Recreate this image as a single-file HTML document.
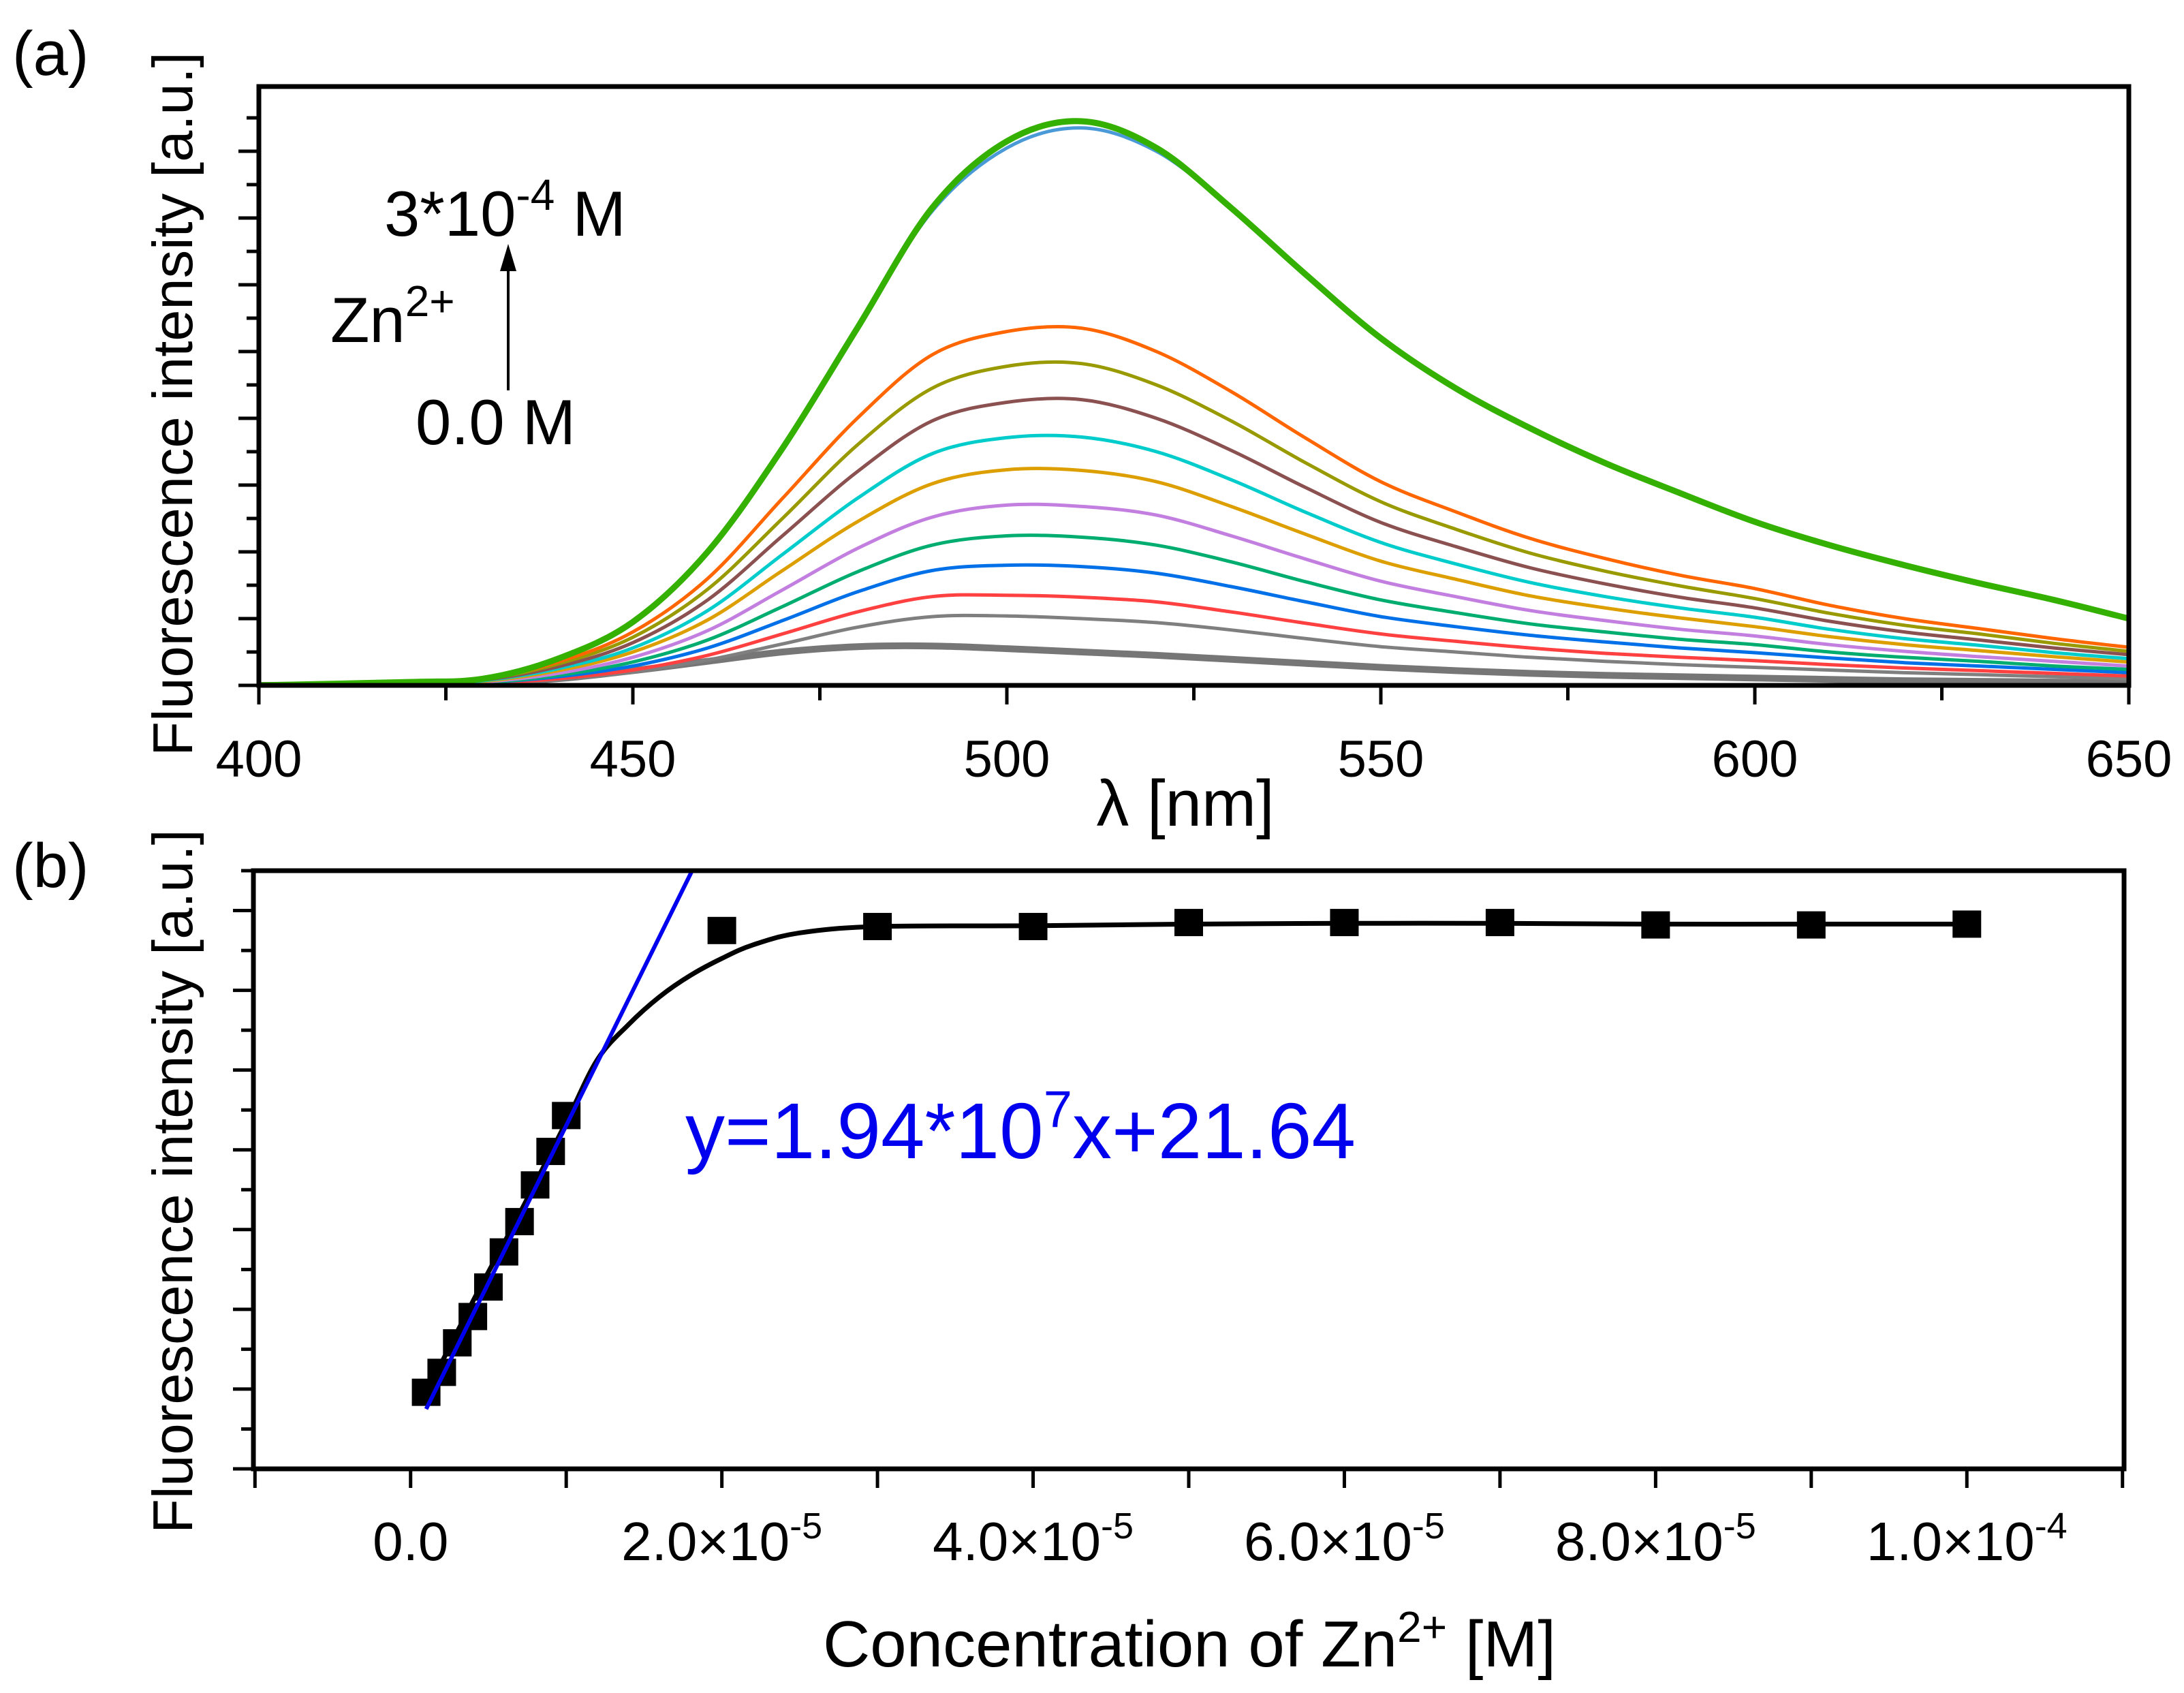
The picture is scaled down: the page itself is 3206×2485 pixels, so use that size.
<!DOCTYPE html>
<html><head><meta charset="utf-8">
<style>
html,body{margin:0;padding:0;background:#fff;}
svg{display:block;font-family:"Liberation Sans",Arial,sans-serif;}
</style></head>
<body>
<svg id="fig" width="3206" height="2485" viewBox="0 0 3206 2485" xmlns="http://www.w3.org/2000/svg">
<rect width="3206" height="2485" fill="#fff"/>
<g id="pa"></g>
<g id="pb"></g>
<text x="18" y="110" font-size="92">(a)</text>
<text x="18" y="1302" font-size="92">(b)</text>
<text transform="translate(282,593) rotate(-90)" text-anchor="middle" font-size="83">Fluorescence intensity [a.u.]</text>
<text transform="translate(282,1734) rotate(-90)" text-anchor="middle" font-size="83">Fluorescence intensity [a.u.]</text>
<text x="1740" y="1212" text-anchor="middle" font-size="96">λ [nm]</text>
<text x="1746" y="2446" text-anchor="middle" font-size="96">Concentration of Zn<tspan dy="-36" font-size="64">2+</tspan><tspan dy="36"> [M]</tspan></text>
<text x="564" y="346" font-size="94">3*10<tspan dy="-38" font-size="64">-4</tspan><tspan dy="38"> M</tspan></text>
<text x="485" y="502" font-size="94">Zn<tspan dy="-38" font-size="64">2+</tspan></text>
<text x="610" y="652" font-size="94">0.0 M</text>
<line x1="746" y1="573" x2="746" y2="395" stroke="#000" stroke-width="4"/>
<polygon points="746,358 734,398 758,398" fill="#000"/>
<text x="1006" y="1700" font-size="116" fill="#0000ee">y=1.94*10<tspan dy="-46" font-size="76">7</tspan><tspan dy="46">x+21.64</tspan></text>
</svg>
<script>
// ---------- Panel (a) data ----------
const wavelengths=[400,420,430,440,450,460,470,480,490,500,510,520,530,540,550,560,570,580,590,600,610,620,630,640,650];
const seriesNames=['s-0','s-1','s-2','s-3','s-4','s-5','s-6','s-7','s-8','s-9','s-10','s-11','s-12'];
const sDark=[0,0.01,0.03,0.1,0.22,0.36,0.5,0.58,0.59,0.55,0.5,0.45,0.39,0.33,0.27,0.22,0.18,0.15,0.13,0.11,0.09,0.07,0.06,0.05,0.04];
const sGray=[0,0.01,0.03,0.09,0.2,0.38,0.62,0.87,1.03,1.04,1.0,0.94,0.83,0.7,0.58,0.5,0.42,0.36,0.31,0.27,0.23,0.19,0.16,0.13,0.1];
const sRed=[0,0.01,0.03,0.1,0.23,0.45,0.77,1.1,1.33,1.35,1.32,1.25,1.1,0.93,0.77,0.66,0.56,0.48,0.42,0.37,0.31,0.26,0.22,0.18,0.14];
const sBlue=[0,0.01,0.04,0.13,0.29,0.56,0.97,1.4,1.72,1.8,1.78,1.68,1.48,1.25,1.03,0.88,0.75,0.65,0.56,0.49,0.41,0.34,0.29,0.24,0.19];
const sGreen2=[0,0.01,0.04,0.15,0.35,0.68,1.18,1.7,2.1,2.24,2.22,2.1,1.85,1.55,1.28,1.09,0.92,0.8,0.69,0.61,0.5,0.42,0.36,0.29,0.24];
const sPurple=[0,0.02,0.05,0.18,0.42,0.82,1.43,2.05,2.52,2.7,2.68,2.55,2.24,1.89,1.56,1.33,1.12,0.97,0.84,0.74,0.61,0.51,0.43,0.36,0.29];
const sGold=[0,0.02,0.06,0.22,0.5,0.98,1.72,2.45,3.02,3.23,3.22,3.05,2.68,2.26,1.86,1.59,1.34,1.16,1.01,0.88,0.73,0.61,0.52,0.43,0.35];
const sCyan=[0,0.02,0.07,0.25,0.56,1.12,1.96,2.8,3.47,3.71,3.72,3.5,3.08,2.59,2.14,1.82,1.54,1.33,1.16,1.02,0.84,0.7,0.6,0.49,0.4];
const sBrown=[0,0.02,0.08,0.28,0.64,1.28,2.24,3.2,3.96,4.24,4.28,4.0,3.52,2.96,2.44,2.08,1.76,1.52,1.32,1.16,0.96,0.8,0.68,0.56,0.46];
const sOlive=[0,0.03,0.09,0.32,0.72,1.44,2.5,3.6,4.45,4.78,4.82,4.5,3.96,3.33,2.75,2.34,1.98,1.71,1.49,1.3,1.08,0.9,0.77,0.63,0.51];
const sOrange=[0,0.03,0.1,0.35,0.8,1.6,2.8,4.0,4.95,5.3,5.35,5.0,4.4,3.7,3.05,2.6,2.2,1.9,1.65,1.45,1.2,1.0,0.85,0.7,0.57];
const sLightBlue=[0,0.05,0.1,0.4,0.95,2.0,3.55,5.35,7.1,8.05,8.35,8.0,7.15,6.15,5.2,4.45,3.85,3.33,2.88,2.45,2.1,1.79,1.52,1.27,0.99];
const sGreen=[0,0.05,0.1,0.4,0.95,2.0,3.55,5.35,7.15,8.15,8.45,8.05,7.15,6.15,5.2,4.45,3.85,3.33,2.88,2.45,2.1,1.8,1.53,1.28,1.0];
const xTicksA=[400,450,500,550,600,650];

// ---------- Panel (b) data ----------
const concX=[1e-6,2e-6,3e-6,4e-6,5e-6,6e-6,7e-6,8e-6,9e-6,1e-5,2e-5,3e-5,4e-5,5e-5,6e-5,7e-5,8e-5,9e-5,1e-4];
const intensityY=[0.96,1.21,1.58,1.91,2.28,2.72,3.1,3.56,3.98,4.43,6.75,6.8,6.8,6.85,6.85,6.85,6.82,6.82,6.83];
const curveX=[1e-6,4e-6,7e-6,1e-5,1.2e-5,1.4e-5,1.6e-5,1.8e-5,2e-5,2.2e-5,2.5e-5,3e-5,4e-5,5e-5,6e-5,7e-5,8e-5,9e-5,1e-4];
const curveY=[0.95,2.1,3.2,4.35,5.13,5.57,5.92,6.19,6.4,6.57,6.72,6.8,6.81,6.83,6.84,6.84,6.83,6.83,6.83];
const fitSlope=[3.95e5];
const fitIntercept=[0.355];
const xTicksB=[0,2e-5,4e-5,6e-5,8e-5,1e-4];
const xTickLabelsB=['0.0','2.0×10|-5','4.0×10|-5','6.0×10|-5','8.0×10|-5','1.0×10|-4'];

const NS='http://www.w3.org/2000/svg';
function mk(tag,attrs,parent){const e=document.createElementNS(NS,tag);for(const k in attrs)e.setAttribute(k,attrs[k]);parent.appendChild(e);return e;}
function smooth(pts){let d='M'+pts[0][0].toFixed(1)+','+pts[0][1].toFixed(1);
 for(let i=0;i<pts.length-1;i++){const p0=pts[Math.max(0,i-1)],p1=pts[i],p2=pts[i+1],p3=pts[Math.min(pts.length-1,i+2)];
 const c1=[p1[0]+(p2[0]-p0[0])/6,p1[1]+(p2[1]-p0[1])/6],c2=[p2[0]-(p3[0]-p1[0])/6,p2[1]-(p3[1]-p1[1])/6];
 d+='C'+c1[0].toFixed(1)+','+c1[1].toFixed(1)+' '+c2[0].toFixed(1)+','+c2[1].toFixed(1)+' '+p2[0].toFixed(1)+','+p2[1].toFixed(1);}
 return d;}

// ---- Panel a ----
const A={l:380,r:3125,t:127,b:1006,x0:400,x1:650,ymax:8.97};
const ax=v=>A.l+(v-A.x0)/(A.x1-A.x0)*(A.r-A.l);
const ay=v=>A.b-v/A.ymax*(A.b-A.t);
const pa=document.getElementById('pa');
const defs=mk('defs',{},pa);
const cp=mk('clipPath',{id:'clipA'},defs);mk('rect',{x:A.l,y:A.t,width:A.r-A.l,height:A.b-A.t},cp);
const seriesA=[[sDark,'#767676',10],[sGray,'#7f7f7f',5],[sRed,'#ff4040',5],[sBlue,'#0070e8',5],[sGreen2,'#00ad70',5],[sPurple,'#c37fe0',5],[sGold,'#dd9f00',5],[sCyan,'#00cccc',5],[sBrown,'#8b5050',5],[sOlive,'#999900',5],[sOrange,'#ff6600',5],[sLightBlue,'#4a9ad8',5],[sGreen,'#33b000',9]];
const gA=mk('g',{'clip-path':'url(#clipA)'},pa);
seriesA.forEach((s,i)=>{
 const pts=wavelengths.map((w,j)=>[ax(w),ay(s[0][j])]);
 const p=mk('path',{d:smooth(pts),fill:'none',stroke:s[1],'stroke-width':s[2],'stroke-linejoin':'round'},gA);
 
 
});
const frA=mk('rect',{x:A.l,y:A.t,width:A.r-A.l,height:A.b-A.t,fill:'none',stroke:'#000','stroke-width':7},pa);


for(let w=400;w<=650;w+=25){const x=ax(w);const major=(w%50===0);
 const t=mk('line',{x1:x,y1:A.b,x2:x,y2:A.b+(major?28:22),stroke:'#000','stroke-width':5},pa);
 
 }
xTicksA.forEach(w=>{const t=mk('text',{x:ax(w),y:1140,'text-anchor':'middle','font-size':76},pa);t.textContent=w;
 
 });
for(let k=0;k<=17;k++){const y=ay(k*0.5);if(y<A.t-2)break;const major=(k%2===0);
 const t=mk('line',{x1:A.l-(major?30:18),y1:y,x2:A.l,y2:y,stroke:'#000','stroke-width':5},pa);
 
 }

// ---- Panel b ----
const B={l:372,r:3118,t:1278,b:2156,x0:-1.01e-5,x1:1.101e-4,ymax:7.5};
const bx=v=>B.l+(v-B.x0)/(B.x1-B.x0)*(B.r-B.l);
const by=v=>B.b-v/B.ymax*(B.b-B.t);
const pb=document.getElementById('pb');
const cpb=mk('clipPath',{id:'clipB'},defs);mk('rect',{x:B.l,y:B.t,width:B.r-B.l,height:B.b-B.t},cpb);
const gB=mk('g',{'clip-path':'url(#clipB)'},pb);
const cv=mk('path',{d:smooth(curveX.map((c,i)=>[bx(c),by(curveY[i])])),fill:'none',stroke:'#000','stroke-width':7},gB);


concX.forEach((c,i)=>{const r=mk('rect',{x:bx(c)-21,y:by(intensityY[i])-20,width:42,height:40,fill:'#000'},gB);
 
 });
const fx0=1e-6,fx1=(B.ymax+0.2-fitIntercept[0])/fitSlope[0];
const fl=mk('line',{x1:bx(fx0),y1:by(fitSlope[0]*fx0+fitIntercept[0]),x2:bx(fx1),y2:by(fitSlope[0]*fx1+fitIntercept[0]),stroke:'#0000ee','stroke-width':6},gB);


const frB=mk('rect',{x:B.l,y:B.t,width:B.r-B.l,height:B.b-B.t,fill:'none',stroke:'#000','stroke-width':7},pb);


for(let k=-1;k<=11;k++){const x=bx(k*1e-5);
 const t=mk('line',{x1:x,y1:B.b,x2:x,y2:B.b+28,stroke:'#000','stroke-width':5},pb);
 
 }
xTicksB.forEach((c,i)=>{const parts=xTickLabelsB[i].split('|');
 const t=mk('text',{x:bx(c),y:2290,'text-anchor':'middle','font-size':80},pb);
 
 
 if(parts.length===1){t.textContent=parts[0];}
 else{const a=mk('tspan',{},t);a.textContent=parts[0];const s=mk('tspan',{dy:-32,'font-size':54},t);s.textContent=parts[1];}
});
for(let k=0;k<=15;k++){const y=by(k*0.5);if(y<B.t-2)break;const major=(k%2===0);
 const t=mk('line',{x1:B.l-(major?30:18),y1:y,x2:B.l,y2:y,stroke:'#000','stroke-width':5},pb);
 
 }
</script>
</body></html>
